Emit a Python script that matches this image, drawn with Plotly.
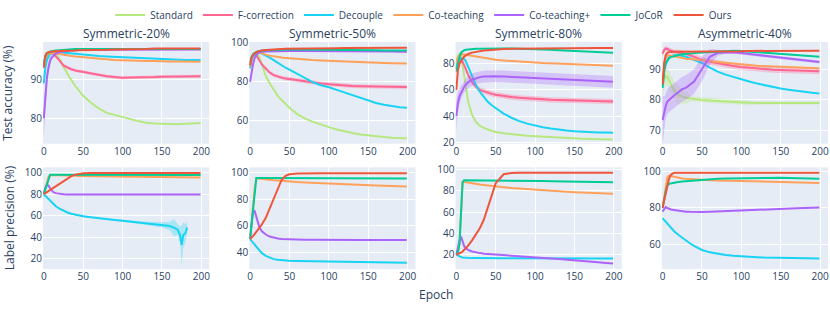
import plotly.graph_objects as go
from plotly.subplots import make_subplots

METHODS = ["Standard", "F-correction", "Decouple", "Co-teaching", "Co-teaching+", "JoCoR", "Ours"]
COLORS = ["#B6E880", "#FF6692", "#19D3F3", "#FFA15A", "#AB63FA", "#00CC96", "#EF553B"]
PANEL_TITLES = ["Symmetric-20%", "Symmetric-50%", "Symmetric-80%", "Asymmetric-40%"]

EPOCHS = [0, 2, 4, 6, 8, 10, 12, 15, 20, 25, 30, 35, 40, 45, 50, 60, 70, 80, 90, 100,
          110, 120, 130, 140, 150, 160, 170, 180, 190, 199]

# ---------------- Test accuracy (%) ----------------
ACC_SYM20_STANDARD = [93.0, 95.0, 96.0, 96.5, 96.7, 96.8, 96.9, 96.7, 95.3, 93.2, 91.4, 89.8, 88.3, 87.0, 85.8, 84.0, 82.5, 81.4, 80.8, 80.3, 79.8, 79.3, 78.9, 78.7, 78.6, 78.6, 78.5, 78.6, 78.7, 78.8]
ACC_SYM20_FCORR = [93.0, 95.0, 96.0, 96.5, 96.6, 96.7, 96.6, 96.0, 94.8, 93.6, 93.0, 92.6, 92.3, 92.1, 92.0, 91.5, 91.1, 90.8, 90.6, 90.4, 90.5, 90.5, 90.6, 90.6, 90.7, 90.7, 90.7, 90.8, 90.8, 90.8]
ACC_SYM20_DECOUPLE = [89.0, 93.0, 95.0, 96.0, 96.5, 96.8, 96.9, 97.0, 97.0, 96.9, 96.7, 96.6, 96.5, 96.4, 96.3, 96.1, 96.0, 95.9, 95.8, 95.7, 95.6, 95.5, 95.4, 95.3, 95.2, 95.1, 95.1, 95.0, 95.0, 95.0]
ACC_SYM20_COTEACH = [93.0, 95.5, 96.3, 96.6, 96.8, 96.8, 96.8, 96.7, 96.5, 96.3, 96.2, 96.0, 95.9, 95.8, 95.7, 95.5, 95.3, 95.1, 95.0, 94.9, 94.8, 94.8, 94.7, 94.7, 94.6, 94.6, 94.6, 94.5, 94.5, 94.5]
ACC_SYM20_COPLUS = [80.0, 86.5, 90.5, 93.0, 94.8, 95.6, 96.1, 96.6, 97.0, 97.2, 97.3, 97.4, 97.5, 97.5, 97.6, 97.6, 97.6, 97.7, 97.7, 97.7, 97.7, 97.7, 97.7, 97.7, 97.7, 97.7, 97.7, 97.7, 97.7, 97.7]
ACC_SYM20_JOCOR = [94.0, 96.0, 96.7, 97.0, 97.1, 97.2, 97.3, 97.4, 97.5, 97.6, 97.7, 97.7, 97.8, 97.8, 97.8, 97.9, 97.9, 97.9, 97.9, 97.9, 97.9, 97.8, 97.8, 97.8, 97.8, 97.8, 97.8, 97.8, 97.8, 97.8]
ACC_SYM20_OURS = [93.0, 96.2, 96.8, 97.0, 97.1, 97.1, 97.2, 97.2, 97.3, 97.3, 97.4, 97.4, 97.4, 97.5, 97.5, 97.5, 97.6, 97.6, 97.7, 97.7, 97.8, 97.8, 97.8, 97.9, 97.9, 97.9, 97.9, 97.9, 97.9, 97.9]

ACC_SYM50_STANDARD = [88.0, 92.0, 93.5, 94.0, 94.2, 94.0, 92.5, 89.0, 83.0, 79.2, 75.8, 73.0, 70.7, 68.6, 66.8, 63.5, 61.2, 59.5, 58.0, 56.8, 55.6, 54.6, 53.8, 53.0, 52.5, 52.0, 51.7, 51.4, 51.2, 51.1]
ACC_SYM50_FCORR = [88.0, 92.0, 93.5, 94.0, 93.5, 92.5, 91.0, 89.0, 86.8, 84.8, 83.5, 82.7, 82.2, 81.8, 81.5, 80.8, 80.2, 79.7, 79.2, 78.8, 78.4, 78.1, 77.9, 77.8, 77.7, 77.6, 77.5, 77.5, 77.5, 77.4]
ACC_SYM50_DECOUPLE = [87.0, 91.5, 93.5, 94.3, 94.8, 95.0, 95.0, 94.6, 93.7, 92.5, 91.2, 89.8, 88.5, 87.3, 86.3, 84.0, 81.8, 79.8, 78.3, 77.3, 75.9, 74.5, 73.0, 71.6, 70.3, 69.2, 68.3, 67.6, 67.0, 66.7]
ACC_SYM50_COTEACH = [88.0, 92.5, 94.3, 95.0, 95.3, 95.3, 95.0, 94.5, 94.0, 93.5, 93.1, 92.8, 92.5, 92.3, 92.1, 91.8, 91.5, 91.2, 91.0, 90.8, 90.6, 90.4, 90.2, 90.0, 89.9, 89.8, 89.7, 89.6, 89.5, 89.5]
ACC_SYM50_COPLUS = [80.0, 85.0, 89.5, 92.5, 94.0, 94.8, 95.2, 95.5, 95.6, 95.7, 95.8, 95.8, 95.9, 95.9, 95.9, 95.9, 95.9, 95.9, 95.8, 95.8, 95.8, 95.8, 95.7, 95.7, 95.7, 95.6, 95.6, 95.6, 95.5, 95.5]
ACC_SYM50_JOCOR = [90.0, 93.0, 94.3, 95.0, 95.4, 95.7, 95.9, 96.1, 96.3, 96.4, 96.5, 96.5, 96.6, 96.6, 96.6, 96.6, 96.6, 96.5, 96.5, 96.5, 96.4, 96.4, 96.4, 96.3, 96.3, 96.3, 96.2, 96.2, 96.2, 96.1]
ACC_SYM50_OURS = [88.5, 92.5, 94.0, 94.8, 95.3, 95.7, 96.0, 96.2, 96.4, 96.6, 96.7, 96.8, 96.9, 97.0, 97.0, 97.1, 97.2, 97.2, 97.3, 97.3, 97.3, 97.4, 97.4, 97.4, 97.5, 97.5, 97.5, 97.5, 97.5, 97.5]

ACC_SYM80_STANDARD = [78.0, 86.0, 87.5, 86.0, 79.0, 70.0, 61.0, 51.0, 41.0, 35.5, 32.5, 31.0, 29.8, 28.8, 28.0, 27.0, 26.2, 25.6, 25.0, 24.6, 24.2, 23.8, 23.4, 23.1, 22.9, 22.7, 22.5, 22.4, 22.3, 22.2]
ACC_SYM80_FCORR = [76.0, 84.0, 85.0, 83.5, 81.5, 79.0, 76.0, 71.5, 66.0, 62.5, 60.0, 58.8, 57.8, 57.0, 56.4, 55.4, 54.6, 54.0, 53.5, 53.1, 52.8, 52.5, 52.3, 52.1, 51.9, 51.7, 51.5, 51.4, 51.3, 51.2]
ACC_SYM80_DECOUPLE = [76.0, 81.0, 83.0, 84.0, 84.0, 83.5, 82.0, 77.5, 70.0, 63.5, 58.5, 54.5, 51.0, 48.3, 46.0, 42.0, 38.8, 36.2, 34.3, 32.8, 31.6, 30.6, 29.7, 29.0, 28.5, 28.1, 27.8, 27.6, 27.5, 27.4]
ACC_SYM80_COTEACH = [80.0, 85.0, 86.5, 87.0, 87.2, 87.0, 86.8, 86.5, 86.0, 85.3, 84.6, 84.0, 83.5, 83.2, 83.0, 82.5, 82.0, 81.6, 81.3, 81.0, 80.6, 80.3, 80.0, 79.7, 79.5, 79.2, 79.0, 78.8, 78.6, 78.5]
ACC_SYM80_COPLUS = [40.0, 50.0, 55.0, 58.0, 60.5, 62.5, 64.0, 65.8, 67.8, 69.0, 69.8, 70.2, 70.4, 70.5, 70.5, 70.3, 70.0, 69.7, 69.4, 69.1, 68.8, 68.5, 68.2, 67.9, 67.6, 67.3, 67.0, 66.7, 66.4, 66.2]
ACC_SYM80_JOCOR = [74.0, 80.0, 85.0, 88.5, 89.8, 90.3, 90.6, 90.9, 91.2, 91.4, 91.5, 91.6, 91.6, 91.6, 91.6, 91.6, 91.6, 91.5, 91.4, 91.2, 91.0, 90.7, 90.4, 90.1, 89.8, 89.5, 89.2, 88.9, 88.6, 88.4]
ACC_SYM80_OURS = [60.0, 75.0, 80.0, 82.5, 84.0, 85.5, 86.5, 87.5, 88.5, 89.2, 89.7, 90.1, 90.4, 90.7, 90.9, 91.2, 91.4, 91.5, 91.6, 91.7, 91.8, 91.8, 91.9, 91.9, 91.9, 92.0, 92.0, 92.0, 92.0, 92.0]

ACC_ASYM40_STANDARD = [84.0, 86.5, 87.8, 87.5, 86.5, 85.5, 84.5, 83.0, 81.5, 81.0, 80.7, 80.5, 80.3, 80.2, 80.0, 79.8, 79.6, 79.4, 79.3, 79.2, 79.1, 79.0, 79.0, 79.0, 79.0, 79.0, 79.0, 79.0, 79.0, 79.0]
ACC_ASYM40_FCORR = [95.0, 96.2, 96.7, 96.6, 96.3, 96.0, 95.8, 95.6, 95.4, 95.2, 94.9, 94.5, 94.0, 93.5, 93.0, 92.4, 91.9, 91.4, 91.0, 90.7, 90.4, 90.2, 90.0, 89.8, 89.7, 89.6, 89.5, 89.4, 89.3, 89.3]
ACC_ASYM40_DECOUPLE = [84.0, 89.0, 91.5, 93.0, 93.8, 94.2, 94.4, 94.5, 94.5, 94.3, 94.0, 93.5, 93.0, 92.5, 92.0, 90.5, 89.2, 88.2, 87.4, 86.7, 86.0, 85.3, 84.7, 84.2, 83.7, 83.3, 82.9, 82.6, 82.3, 82.1]
ACC_ASYM40_COTEACH = [85.0, 91.0, 93.5, 94.3, 94.5, 94.4, 94.2, 94.0, 93.8, 93.6, 93.4, 93.3, 93.2, 93.1, 93.0, 92.6, 92.3, 92.0, 91.7, 91.5, 91.3, 91.1, 91.0, 90.9, 90.8, 90.7, 90.6, 90.5, 90.4, 90.3]
ACC_ASYM40_COPLUS = [73.5, 76.0, 78.0, 79.5, 80.0, 80.5, 81.0, 81.5, 82.5, 83.5, 84.0, 85.0, 86.0, 88.0, 90.0, 94.0, 95.3, 95.5, 95.5, 95.2, 94.9, 94.6, 94.3, 94.0, 93.7, 93.4, 93.1, 92.8, 92.5, 92.3]
ACC_ASYM40_JOCOR = [84.0, 89.5, 92.0, 93.0, 93.5, 93.8, 94.0, 94.3, 94.6, 94.8, 95.0, 95.1, 95.2, 95.3, 95.4, 95.6, 95.8, 96.0, 96.0, 95.9, 95.7, 95.5, 95.3, 95.1, 94.9, 94.7, 94.5, 94.3, 94.1, 94.0]
ACC_ASYM40_OURS = [85.0, 92.0, 94.5, 95.3, 95.5, 95.6, 95.6, 95.6, 95.6, 95.6, 95.6, 95.6, 95.7, 95.7, 95.7, 95.7, 95.8, 95.8, 95.8, 95.8, 95.9, 95.9, 95.9, 95.9, 96.0, 96.0, 96.0, 96.0, 96.0, 96.0]

# spread (std) of a few accuracy curves, drawn as shaded bands
ACC_SYM20_COPLUS_SD = [5.0, 3.0, 2.0, 1.2, 0.8, 0.5, 0.4, 0.3, 0.2, 0.2, 0.2, 0.2, 0.2, 0.2, 0.2, 0.2, 0.2, 0.2, 0.2, 0.2, 0.2, 0.2, 0.2, 0.2, 0.2, 0.2, 0.2, 0.2, 0.2, 0.2]
ACC_SYM20_FCORR_SD = [0.3, 0.3, 0.3, 0.3, 0.3, 0.3, 0.3, 0.4, 0.4, 0.4, 0.4, 0.4, 0.4, 0.4, 0.4, 0.4, 0.4, 0.4, 0.4, 0.4, 0.4, 0.4, 0.4, 0.4, 0.4, 0.4, 0.4, 0.4, 0.4, 0.4]
ACC_SYM50_FCORR_SD = [0.5, 0.5, 0.5, 0.6, 0.7, 0.8, 0.8, 0.9, 1.0, 1.0, 1.0, 1.0, 1.0, 1.0, 1.0, 1.0, 1.0, 1.0, 1.0, 1.0, 1.0, 1.0, 1.0, 1.0, 1.0, 1.0, 1.0, 1.0, 1.0, 1.0]
ACC_SYM80_COPLUS_SD = [12.0, 8.0, 6.0, 5.0, 4.5, 4.5, 4.5, 4.5, 4.5, 4.5, 4.5, 4.5, 4.5, 4.5, 4.5, 4.5, 4.5, 4.5, 4.5, 4.5, 4.5, 4.5, 4.5, 4.5, 4.5, 4.5, 4.5, 4.5, 4.5, 4.5]
ACC_SYM80_FCORR_SD = [2.0, 2.0, 2.0, 2.0, 2.0, 2.0, 2.0, 2.0, 2.0, 2.0, 2.0, 2.0, 2.0, 2.0, 2.0, 2.0, 2.0, 2.0, 2.0, 2.0, 2.0, 2.0, 2.0, 2.0, 2.0, 2.0, 2.0, 2.0, 2.0, 2.0]
ACC_ASYM40_COPLUS_SD = [8.0, 5.0, 4.0, 4.0, 4.0, 4.0, 4.0, 4.0, 4.0, 4.0, 4.0, 4.0, 4.0, 4.0, 4.0, 2.5, 1.0, 0.5, 0.5, 0.5, 0.5, 0.5, 0.5, 0.5, 0.5, 0.5, 0.5, 0.5, 0.5, 0.5]
ACC_ASYM40_STANDARD_SD = [3.0, 3.0, 3.0, 3.0, 3.0, 3.0, 3.0, 3.0, 3.0, 2.5, 2.0, 1.0, 0.8, 0.8, 0.8, 0.8, 0.8, 0.8, 0.8, 0.8, 0.8, 0.5, 0.5, 0.5, 0.5, 0.5, 0.5, 0.5, 0.5, 0.5]
ACC_ASYM40_FCORR_SD = [0.8, 0.8, 0.8, 0.8, 0.8, 0.8, 0.8, 0.8, 1.0, 1.0, 1.0, 1.0, 1.0, 1.0, 1.0, 1.0, 1.0, 1.0, 1.0, 1.0, 1.0, 1.0, 1.0, 1.0, 1.0, 1.0, 1.0, 1.0, 1.0, 1.0]

# ---------------- Label precision (%) ----------------
PREC_SYM20_DECOUPLE_EPOCHS = [0, 2, 4, 6, 8, 10, 12, 15, 20, 25, 30, 35, 40, 45, 50, 60, 70, 80, 90, 100,
                              110, 120, 130, 140, 150, 160, 165, 170, 173, 175, 177, 180, 182]
PREC_SYM20_DECOUPLE = [80.0, 78.5, 77.0, 75.5, 74.0, 72.5, 71.0, 69.0, 66.5, 64.5, 63.0, 61.8, 60.8, 60.0, 59.5, 58.5, 57.5, 56.8, 56.0, 55.3, 54.5, 53.8, 53.0, 52.3, 51.5, 50.5, 49.0, 47.0, 42.0, 33.0, 42.0, 44.0, 49.0]
PREC_SYM20_DECOUPLE_SD = [0.5, 0.5, 0.5, 0.5, 0.5, 0.5, 0.5, 0.5, 0.6, 0.6, 0.6, 0.6, 0.6, 0.6, 0.6, 0.7, 0.7, 0.8, 0.8, 0.9, 1.0, 1.2, 1.5, 2.0, 2.5, 4.0, 8.0, 5.0, 8.0, 18.0, 12.0, 8.0, 6.0]
PREC_SYM20_COTEACH = [80.0, 86.0, 92.0, 96.5, 97.8, 97.8, 97.7, 97.6, 97.5, 97.4, 97.3, 97.2, 97.1, 97.0, 96.9, 96.8, 96.7, 96.6, 96.5, 96.4, 96.3, 96.2, 96.1, 96.0, 95.9, 95.8, 95.7, 95.6, 95.5, 95.5]
PREC_SYM20_COPLUS = [80.0, 86.0, 88.5, 88.0, 85.5, 83.5, 82.0, 81.0, 80.3, 80.0, 79.8, 79.7, 79.7, 79.7, 79.7, 79.7, 79.7, 79.7, 79.7, 79.7, 79.7, 79.7, 79.7, 79.7, 79.8, 79.8, 79.8, 79.8, 79.8, 79.8]
PREC_SYM20_JOCOR = [80.0, 85.0, 90.0, 95.0, 98.0, 98.0, 98.0, 98.0, 98.0, 98.0, 98.0, 98.0, 98.0, 98.0, 98.0, 98.0, 98.0, 98.0, 97.9, 97.9, 97.9, 97.9, 97.8, 97.8, 97.8, 97.8, 97.8, 97.8, 97.8, 97.8]
PREC_SYM20_OURS = [80.0, 81.0, 82.0, 83.0, 84.0, 85.0, 86.0, 87.5, 90.0, 92.5, 94.8, 96.8, 98.2, 99.0, 99.4, 99.6, 99.6, 99.6, 99.6, 99.6, 99.6, 99.6, 99.6, 99.6, 99.6, 99.6, 99.6, 99.6, 99.6, 99.6]

PREC_SYM50_DECOUPLE = [50.0, 48.5, 47.0, 45.5, 44.5, 43.0, 41.5, 39.5, 37.5, 36.0, 35.0, 34.5, 34.2, 34.0, 33.8, 33.7, 33.6, 33.5, 33.4, 33.3, 33.2, 33.1, 33.0, 32.9, 32.8, 32.7, 32.6, 32.5, 32.4, 32.3]
PREC_SYM50_COTEACH = [50.0, 63.0, 76.0, 89.0, 95.8, 95.6, 95.4, 95.2, 94.8, 94.5, 94.2, 94.0, 93.7, 93.5, 93.3, 92.9, 92.6, 92.3, 92.0, 91.7, 91.5, 91.2, 91.0, 90.8, 90.6, 90.4, 90.2, 90.0, 89.8, 89.6]
PREC_SYM50_COPLUS = [50.0, 62.0, 72.0, 71.0, 67.0, 62.0, 58.5, 56.0, 53.5, 52.0, 51.0, 50.5, 50.2, 50.0, 49.8, 49.6, 49.5, 49.5, 49.4, 49.4, 49.4, 49.4, 49.4, 49.4, 49.4, 49.4, 49.4, 49.3, 49.3, 49.3]
PREC_SYM50_JOCOR = [50.0, 63.0, 76.0, 89.0, 96.0, 96.0, 96.0, 96.0, 96.0, 96.0, 96.0, 96.0, 96.0, 96.0, 96.0, 96.0, 95.9, 95.9, 95.8, 95.8, 95.8, 95.7, 95.7, 95.7, 95.6, 95.6, 95.6, 95.5, 95.5, 95.5]
PREC_SYM50_OURS = [50.0, 51.0, 52.5, 54.0, 55.5, 57.0, 58.5, 61.0, 66.0, 73.0, 80.0, 88.0, 94.5, 97.5, 98.8, 99.3, 99.5, 99.5, 99.5, 99.5, 99.5, 99.5, 99.5, 99.5, 99.5, 99.5, 99.5, 99.5, 99.5, 99.5]

PREC_SYM80_DECOUPLE = [20.0, 19.0, 18.3, 17.8, 17.4, 17.2, 17.0, 16.9, 16.8, 16.8, 16.7, 16.7, 16.7, 16.7, 16.7, 16.6, 16.6, 16.6, 16.6, 16.6, 16.6, 16.5, 16.5, 16.5, 16.5, 16.5, 16.5, 16.5, 16.5, 16.5]
PREC_SYM80_COTEACH = [20.0, 22.0, 30.0, 60.0, 88.5, 88.3, 88.0, 87.6, 87.0, 86.4, 85.8, 85.3, 84.8, 84.4, 84.0, 83.3, 82.6, 82.0, 81.5, 81.0, 80.5, 80.0, 79.5, 79.0, 78.6, 78.2, 77.9, 77.6, 77.4, 77.3]
PREC_SYM80_COPLUS = [20.0, 28.0, 33.0, 37.0, 32.0, 28.0, 26.0, 24.5, 23.0, 22.0, 21.5, 21.0, 20.7, 20.4, 20.0, 19.5, 19.0, 18.5, 18.0, 17.5, 17.0, 16.5, 16.0, 15.5, 15.0, 14.3, 13.6, 13.0, 12.3, 11.8]
PREC_SYM80_JOCOR = [20.0, 22.0, 30.0, 60.0, 88.0, 89.8, 89.8, 89.8, 89.8, 89.8, 89.8, 89.8, 89.8, 89.8, 89.8, 89.7, 89.6, 89.5, 89.4, 89.3, 89.2, 89.0, 88.9, 88.7, 88.6, 88.4, 88.3, 88.2, 88.1, 88.0]
PREC_SYM80_OURS = [20.0, 20.5, 21.0, 22.0, 23.0, 24.5, 26.0, 28.5, 33.5, 39.0, 45.0, 53.0, 64.0, 76.0, 87.0, 95.5, 96.7, 96.9, 97.0, 97.0, 97.0, 97.0, 97.0, 97.0, 97.0, 97.0, 97.0, 97.0, 97.0, 97.0]

PREC_ASYM40_DECOUPLE = [74.5, 73.5, 72.5, 71.5, 70.5, 69.5, 68.7, 67.3, 65.5, 63.8, 62.2, 60.8, 59.5, 58.3, 57.3, 56.0, 55.2, 54.6, 54.2, 53.8, 53.6, 53.4, 53.2, 53.1, 53.0, 52.9, 52.8, 52.8, 52.7, 52.7]
PREC_ASYM40_COTEACH = [80.0, 86.0, 92.0, 96.5, 97.5, 97.3, 97.0, 96.7, 96.3, 96.0, 95.8, 95.6, 95.4, 95.3, 95.2, 95.0, 94.9, 94.8, 94.7, 94.6, 94.5, 94.4, 94.3, 94.2, 94.1, 94.0, 93.8, 93.7, 93.6, 93.5]
PREC_ASYM40_COPLUS = [78.0, 79.5, 80.5, 80.0, 79.5, 79.3, 79.0, 78.8, 78.5, 78.3, 78.0, 77.9, 77.8, 77.8, 77.8, 77.9, 78.1, 78.3, 78.6, 78.9, 79.1, 79.3, 79.5, 79.6, 79.7, 79.8, 79.9, 80.0, 80.1, 80.2]
PREC_ASYM40_JOCOR = [80.0, 85.0, 89.0, 92.0, 93.0, 93.3, 93.5, 93.7, 94.0, 94.3, 94.5, 94.7, 94.9, 95.1, 95.3, 95.6, 95.8, 96.0, 96.1, 96.2, 96.3, 96.3, 96.3, 96.3, 96.3, 96.2, 96.1, 96.0, 95.9, 95.8]
PREC_ASYM40_OURS = [80.0, 84.0, 88.0, 92.0, 95.5, 97.5, 98.5, 99.0, 99.1, 99.1, 99.1, 99.1, 99.1, 99.1, 99.1, 99.1, 99.1, 99.1, 99.1, 99.1, 99.1, 99.1, 99.1, 99.1, 99.1, 99.1, 99.1, 99.1, 99.1, 99.1]

# axis ranges / ticks per panel
ACC_RANGES = [[73.5, 99.6], [48.3, 100.5], [19.0, 96.6], [65.8, 98.8]]
ACC_DTICKS = [10, 20, 20, 10]
PREC_RANGES = [[10.5, 105.0], [27.6, 104.0], [6.6, 102.0], [47.0, 102.0]]
PREC_DTICKS = [20, 20, 20, 20]

# ---------------------------------------------------------------
acc_panels = [
    [ACC_SYM20_STANDARD, ACC_SYM20_FCORR, ACC_SYM20_DECOUPLE, ACC_SYM20_COTEACH, ACC_SYM20_COPLUS, ACC_SYM20_JOCOR, ACC_SYM20_OURS],
    [ACC_SYM50_STANDARD, ACC_SYM50_FCORR, ACC_SYM50_DECOUPLE, ACC_SYM50_COTEACH, ACC_SYM50_COPLUS, ACC_SYM50_JOCOR, ACC_SYM50_OURS],
    [ACC_SYM80_STANDARD, ACC_SYM80_FCORR, ACC_SYM80_DECOUPLE, ACC_SYM80_COTEACH, ACC_SYM80_COPLUS, ACC_SYM80_JOCOR, ACC_SYM80_OURS],
    [ACC_ASYM40_STANDARD, ACC_ASYM40_FCORR, ACC_ASYM40_DECOUPLE, ACC_ASYM40_COTEACH, ACC_ASYM40_COPLUS, ACC_ASYM40_JOCOR, ACC_ASYM40_OURS],
]
acc_bands = [
    {1: ACC_SYM20_FCORR_SD, 4: ACC_SYM20_COPLUS_SD},
    {1: ACC_SYM50_FCORR_SD},
    {1: ACC_SYM80_FCORR_SD, 4: ACC_SYM80_COPLUS_SD},
    {0: ACC_ASYM40_STANDARD_SD, 1: ACC_ASYM40_FCORR_SD, 4: ACC_ASYM40_COPLUS_SD},
]
prec_panels = [
    [None, None, PREC_SYM20_DECOUPLE, PREC_SYM20_COTEACH, PREC_SYM20_COPLUS, PREC_SYM20_JOCOR, PREC_SYM20_OURS],
    [None, None, PREC_SYM50_DECOUPLE, PREC_SYM50_COTEACH, PREC_SYM50_COPLUS, PREC_SYM50_JOCOR, PREC_SYM50_OURS],
    [None, None, PREC_SYM80_DECOUPLE, PREC_SYM80_COTEACH, PREC_SYM80_COPLUS, PREC_SYM80_JOCOR, PREC_SYM80_OURS],
    [None, None, PREC_ASYM40_DECOUPLE, PREC_ASYM40_COTEACH, PREC_ASYM40_COPLUS, PREC_ASYM40_JOCOR, PREC_ASYM40_OURS],
]
prec_bands = [{2: PREC_SYM20_DECOUPLE_SD}, {}, {}, {}]
prec_x = [{2: PREC_SYM20_DECOUPLE_EPOCHS}, {}, {}, {}]


def rgba(hex_color, a):
    h = hex_color.lstrip("#")
    r, g, b = int(h[0:2], 16), int(h[2:4], 16), int(h[4:6], 16)
    return f"rgba({r},{g},{b},{a})"


fig = make_subplots(rows=2, cols=4, horizontal_spacing=0.051, vertical_spacing=0.104)


def add_panel(series_list, bands, xs_over, row, col, legend):
    for k, (name, color, ys) in enumerate(zip(METHODS, COLORS, series_list)):
        if ys is None:
            continue
        xs = xs_over.get(k, EPOCHS)
        if k in bands:
            sd = bands[k]
            upper = [y + s for y, s in zip(ys, sd)]
            lower = [y - s for y, s in zip(ys, sd)]
            fig.add_trace(go.Scatter(x=xs, y=upper, mode="lines", line=dict(width=0, color=color),
                                     showlegend=False, hoverinfo="skip", legendgroup=name), row=row, col=col)
            fig.add_trace(go.Scatter(x=xs, y=lower, mode="lines", line=dict(width=0, color=color),
                                     fill="tonexty", fillcolor=rgba(color, 0.3),
                                     showlegend=False, hoverinfo="skip", legendgroup=name), row=row, col=col)
        fig.add_trace(go.Scatter(x=xs, y=ys, mode="lines", name=name, line=dict(color=color, width=2),
                                 showlegend=legend, legendgroup=name), row=row, col=col)


for c in range(4):
    add_panel(acc_panels[c], acc_bands[c], {}, 1, c + 1, c == 0)
    add_panel(prec_panels[c], prec_bands[c], prec_x[c], 2, c + 1, False)

for c in range(4):
    fig.update_xaxes(range=[-1, 210], dtick=50, tick0=0, row=1, col=c + 1)
    fig.update_xaxes(range=[-1, 210], dtick=50, tick0=0, row=2, col=c + 1)
    fig.update_yaxes(range=ACC_RANGES[c], dtick=ACC_DTICKS[c], row=1, col=c + 1)
    fig.update_yaxes(range=PREC_RANGES[c], dtick=PREC_DTICKS[c], row=2, col=c + 1)

fig.update_xaxes(tickfont=dict(size=10), zeroline=False, automargin=False)
fig.update_yaxes(tickfont=dict(size=10), zeroline=False, automargin=False)

annotations = []
for c in range(4):
    dom = fig.layout[f"xaxis{c + 1}"].domain
    annotations.append(dict(text=PANEL_TITLES[c], x=(dom[0] + dom[1]) / 2, y=1.0, xref="paper", yref="paper",
                            xanchor="center", yanchor="middle", yshift=9, showarrow=False,
                            font=dict(size=12, color="#2a3f5f")))
row1_dom = fig.layout["yaxis1"].domain
row2_dom = fig.layout["yaxis5"].domain
annotations.append(dict(text="Test accuracy (%)", x=0, y=(row1_dom[0] + row1_dom[1]) / 2, xref="paper", yref="paper",
                        textangle=-90, xanchor="center", yanchor="middle", xshift=-35, showarrow=False,
                        font=dict(size=12, color="#2a3f5f")))
annotations.append(dict(text="Label precision (%)", x=0, y=(row2_dom[0] + row2_dom[1]) / 2, xref="paper", yref="paper",
                        textangle=-90, xanchor="center", yanchor="middle", xshift=-34, showarrow=False,
                        font=dict(size=12, color="#2a3f5f")))
annotations.append(dict(text="Epoch", x=0.5, y=0, xref="paper", yref="paper", xanchor="center", yanchor="middle",
                        yshift=-25, showarrow=False, font=dict(size=12, color="#2a3f5f")))

fig.update_layout(
    width=830, height=311,
    margin=dict(l=43, r=2, t=41, b=42),
    template="plotly",
    font=dict(family="Open Sans", color="#2a3f5f"),
    annotations=annotations,
    legend=dict(orientation="h", x=0.485, xanchor="center", y=1.114, yanchor="middle",
                font=dict(size=10), bgcolor="rgba(0,0,0,0)"),
)

fig.write_html("out.html", config={"displayModeBar": False},
               post_script="document.body.style.margin='0px';")
